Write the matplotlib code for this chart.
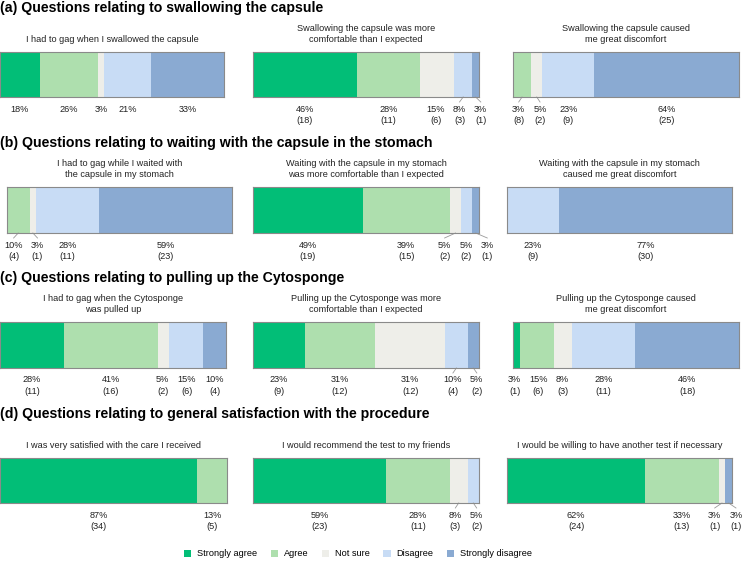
import matplotlib
matplotlib.use("Agg")
import matplotlib.pyplot as plt
from matplotlib.patches import Patch
from matplotlib.transforms import blended_transform_factory

plt.rcParams['font.family'] = ['Liberation Sans', 'DejaVu Sans']

W, H = 742, 569

categories = ["Strongly agree", "Agree", "Not sure", "Disagree", "Strongly disagree"]
colors = ["#02BE77", "#AEDFAE", "#EEEEE9", "#C8DCF5", "#8AAAD2"]

section_titles = [
    "(a) Questions relating to swallowing the capsule",
    "(b) Questions relating to waiting with the capsule in the stomach",
    "(c) Questions relating to pulling up the Cytosponge",
    "(d) Questions relating to general satisfaction with the procedure",
]

questions = [
    ["I had to gag when I swallowed the capsule",
     "Swallowing the capsule was more\ncomfortable than I expected",
     "Swallowing the capsule caused\nme great discomfort"],
    ["I had to gag while I waited with\nthe capsule in my stomach",
     "Waiting with the capsule in my stomach\nwas more comfortable than I expected",
     "Waiting with the capsule in my stomach\ncaused me great discomfort"],
    ["I had to gag when the Cytosponge\nwas pulled up",
     "Pulling up the Cytosponge was more\ncomfortable than I expected",
     "Pulling up the Cytosponge caused\nme great discomfort"],
    ["I was very satisfied with the care I received",
     "I would recommend the test to my friends",
     "I would be willing to have another test if necessary"],
]

# percentages shown in labels (0 = category absent)
pct_a1 = [18, 26, 3, 21, 33]
pct_a2 = [46, 28, 15, 8, 3]
pct_a3 = [0, 3, 5, 23, 64]
pct_b1 = [0, 10, 3, 28, 59]
pct_b2 = [49, 39, 5, 5, 3]
pct_b3 = [0, 0, 0, 23, 77]
pct_c1 = [28, 41, 5, 15, 10]
pct_c2 = [23, 31, 31, 10, 5]
pct_c3 = [3, 15, 8, 28, 46]
pct_d1 = [87, 13, 0, 0, 0]
pct_d2 = [59, 28, 8, 5, 0]
pct_d3 = [62, 33, 3, 0, 3]

# respondent counts shown in labels (None = not shown)
cnt_a1 = None
cnt_a2 = [18, 11, 6, 3, 1]
cnt_a3 = [0, 8, 2, 9, 25]
cnt_b1 = [0, 4, 1, 11, 23]
cnt_b2 = [19, 15, 2, 2, 1]
cnt_b3 = [0, 0, 0, 9, 30]
cnt_c1 = [11, 16, 2, 6, 4]
cnt_c2 = [9, 12, 12, 4, 2]
cnt_c3 = [1, 6, 3, 11, 18]
cnt_d1 = [34, 5, 0, 0, 0]
cnt_d2 = [23, 11, 3, 2, 0]
cnt_d3 = [24, 13, 1, 0, 1]

# bar segment lengths as drawn (a3 is drawn differently from its label)
bar_a3 = [0, 8, 5, 23, 64]

pcts = [[pct_a1, pct_a2, pct_a3], [pct_b1, pct_b2, pct_b3],
        [pct_c1, pct_c2, pct_c3], [pct_d1, pct_d2, pct_d3]]
cnts = [[cnt_a1, cnt_a2, cnt_a3], [cnt_b1, cnt_b2, cnt_b3],
        [cnt_c1, cnt_c2, cnt_c3], [cnt_d1, cnt_d2, cnt_d3]]
bars = [[pct_a1, pct_a2, bar_a3], [pct_b1, pct_b2, pct_b3],
        [pct_c1, pct_c2, pct_c3], [pct_d1, pct_d2, pct_d3]]

# layout (pixels)
col_x = [[(0, 224), (253, 479), (513, 739)],
         [(7, 232), (253, 479), (507, 732)],
         [(0, 226), (253, 479), (513, 739)],
         [(0, 227), (253, 479), (507, 732)]]
row_bar_y = [(52, 97), (187, 233), (322, 368), (458, 503)]
row_title_y = [8, 143, 278, 414]

fig = plt.figure(figsize=(W / 100, H / 100), dpi=100)
fig.patch.set_facecolor("white")

FS_TITLE = 10.2
FS_SUB = 6.6
FS_LAB = 6.6
TXT = "#222222"

all_axes = []
for r in range(4):
    fig.text(0.0 / W, 1 - row_title_y[r] / H, section_titles[r], fontsize=FS_TITLE,
             fontweight="bold", ha="left", va="center", color="black")
    y0, y1 = row_bar_y[r]
    for c in range(3):
        x0, x1 = col_x[r][c]
        ax = fig.add_axes([x0 / W, 1 - y1 / H, (x1 - x0) / W, (y1 - y0) / H])
        vals = bars[r][c]
        total = sum(vals)
        left = 0
        centers = []
        for k, v in enumerate(vals):
            if v > 0:
                ax.barh(0.5, v, left=left, height=1.0, color=colors[k], linewidth=0)
            centers.append(left + v / 2)
            left += v
        ax.set_xlim(0, total)
        ax.set_ylim(0, 1)
        ax.set_xticks([])
        ax.set_yticks([])
        for s in ax.spines.values():
            s.set_color("#8a8a8a")
            s.set_linewidth(0.8)
        ax.text(0.5, 1 + 8.5 / (y1 - y0), questions[r][c], transform=ax.transAxes,
                ha="center", va="bottom", fontsize=FS_SUB, color=TXT, linespacing=1.25)
        all_axes.append((ax, r, c, centers, total, x0, x1, y0, y1))

fig.canvas.draw()
renderer = fig.canvas.get_renderer()

for ax, r, c, centers, total, x0, x1, y0, y1 in all_axes:
    pp = pcts[r][c]
    cc = cnts[r][c]
    pxu = (x1 - x0) / total  # pixels per data unit
    items = []
    for k in range(5):
        if pp[k] == 0:
            continue
        s = f"{pp[k]}%"
        if cc is not None:
            s += f"\n({cc[k]})"
        t = ax.text(0, 0, s, fontsize=FS_LAB, ha="center", va="top", color=TXT,
                    linespacing=1.35)
        wpx = t.get_window_extent(renderer).width
        t.remove()
        items.append([centers[k] * pxu, wpx, s, centers[k]])
    # simple 1-D repel in pixels
    pos = [it[0] for it in items]
    pad = 8.0
    for _ in range(300):
        moved = False
        for i in range(len(items) - 1):
            need = (items[i][1] + items[i + 1][1]) / 2 + pad
            gap = pos[i + 1] - pos[i]
            if gap < need - 1e-6:
                d = (need - gap) / 2
                pos[i] -= d
                pos[i + 1] += d
                moved = True
        if not moved:
            break
    trans = blended_transform_factory(ax.transData, ax.transAxes)
    hgt = y1 - y0
    for it, p in zip(items, pos):
        xd = p / pxu
        ax.text(xd, -7.5 / hgt, it[2], transform=trans, fontsize=FS_LAB, ha="center",
                va="top", color=TXT, linespacing=1.35, clip_on=False)
        if abs(p - it[0]) > 2.9:
            ax.plot([it[3], xd], [0, -5 / hgt], transform=trans, color="#9a9a9a",
                    lw=0.6, clip_on=False)

handles = [Patch(facecolor=colors[k], edgecolor="none", label=categories[k]) for k in range(5)]
fig.legend(handles=handles, loc="center", bbox_to_anchor=(358 / W, 1 - 554 / H), ncol=5,
           frameon=False, fontsize=FS_LAB, handlelength=0.8, handleheight=0.8,
           handletextpad=0.6, columnspacing=1.5)

fig.savefig("out.png", dpi=100, facecolor="white")
